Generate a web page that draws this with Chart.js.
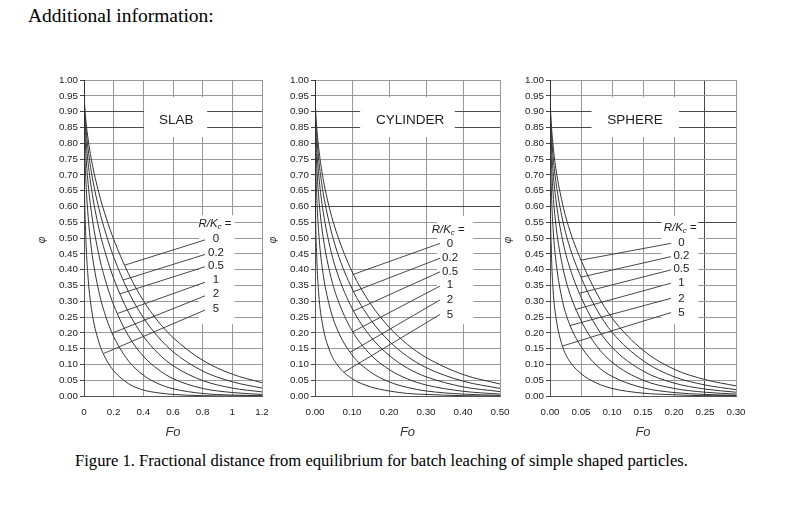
<!DOCTYPE html>
<html><head><meta charset="utf-8">
<script src="https://cdn.jsdelivr.net/npm/chart.js@4.4.1/dist/chart.umd.min.js"></script>
<style>
html,body{margin:0;padding:0;background:#fff;}
body{width:807px;height:509px;overflow:hidden;position:relative;font-family:"Liberation Serif","Times New Roman",serif;}
#title{position:absolute;left:28px;top:5px;font-size:19.5px;color:#000;white-space:nowrap;}
#caption{position:absolute;left:75px;top:451px;font-size:16.6px;color:#000;white-space:nowrap;}
canvas{position:absolute;}
</style></head><body>
<div id="title">Additional information:</div>
<div id="caption">Figure 1. Fractional distance from equilibrium for batch leaching of simple shaped particles.</div>
<script>
// ---- tick labels ----
const yTickLabels = ['0.00','0.05','0.10','0.15','0.20','0.25','0.30','0.35','0.40','0.45','0.50','0.55','0.60','0.65','0.70','0.75','0.80','0.85','0.90','0.95','1.00'];
const slabTickLabels = ['0','0.2','0.4','0.6','0.8','1','1.2'];
const cylTickLabels = ['0.00','0.10','0.20','0.30','0.40','0.50'];
const sphTickLabels = ['0.00','0.05','0.10','0.15','0.20','0.25','0.30'];
const ratioLabels = ['0','0.2','0.5','1','2','5'];

// ---- SLAB: Fo and phi for R/Kc = 0, 0.2, 0.5, 1, 2, 5 ----
const slabFo  = [0, 0.002, 0.01, 0.025, 0.05, 0.1, 0.15, 0.2, 0.3, 0.4, 0.5, 0.6, 0.8, 1.0, 1.2];
const slabR0  = [1, 0.950, 0.887, 0.822, 0.748, 0.643, 0.563, 0.496, 0.387, 0.302, 0.236, 0.185, 0.113, 0.069, 0.042];
const slabR02 = [1, 0.940, 0.867, 0.792, 0.708, 0.594, 0.510, 0.440, 0.330, 0.248, 0.187, 0.140, 0.079, 0.045, 0.025];
const slabR05 = [1, 0.926, 0.838, 0.750, 0.657, 0.531, 0.443, 0.372, 0.265, 0.189, 0.135, 0.096, 0.049, 0.025, 0.013];
const slabR1  = [1, 0.903, 0.793, 0.687, 0.581, 0.447, 0.357, 0.288, 0.190, 0.126, 0.084, 0.055, 0.024, 0.011, 0.005];
const slabR2  = [1, 0.860, 0.714, 0.586, 0.466, 0.331, 0.247, 0.188, 0.111, 0.066, 0.039, 0.023, 0.008, 0.003, 0.001];
const slabR5  = [1, 0.749, 0.539, 0.391, 0.277, 0.171, 0.115, 0.080, 0.039, 0.019, 0.010, 0.005, 0.001, 0.000, 0.000];

// ---- CYLINDER ----
const cylFo  = [0, 0.001, 0.004, 0.01, 0.02, 0.04, 0.06, 0.1, 0.15, 0.2, 0.25, 0.3, 0.4, 0.5];
const cylR0  = [1, 0.930, 0.861, 0.785, 0.701, 0.590, 0.511, 0.394, 0.292, 0.218, 0.163, 0.122, 0.068, 0.038];
const cylR02 = [1, 0.916, 0.837, 0.750, 0.658, 0.540, 0.456, 0.340, 0.242, 0.174, 0.125, 0.090, 0.047, 0.024];
const cylR05 = [1, 0.897, 0.801, 0.701, 0.600, 0.474, 0.390, 0.278, 0.188, 0.129, 0.088, 0.061, 0.029, 0.014];
const cylR1  = [1, 0.866, 0.748, 0.630, 0.519, 0.391, 0.310, 0.207, 0.131, 0.084, 0.054, 0.035, 0.015, 0.006];
const cylR2  = [1, 0.809, 0.657, 0.518, 0.402, 0.281, 0.211, 0.130, 0.076, 0.045, 0.027, 0.016, 0.006, 0.002];
const cylR5  = [1, 0.670, 0.470, 0.325, 0.229, 0.142, 0.099, 0.055, 0.029, 0.016, 0.008, 0.005, 0.001, 0.000];

// ---- SPHERE ----
const sphFo  = [0, 0.0005, 0.002, 0.005, 0.01, 0.02, 0.03, 0.05, 0.075, 0.1, 0.15, 0.2, 0.25, 0.3];
const sphR0  = [1, 0.932, 0.866, 0.792, 0.713, 0.610, 0.536, 0.430, 0.326, 0.247, 0.145, 0.085, 0.052, 0.032];
const sphR02 = [1, 0.919, 0.842, 0.758, 0.671, 0.560, 0.483, 0.376, 0.275, 0.202, 0.112, 0.061, 0.035, 0.020];
const sphR05 = [1, 0.900, 0.807, 0.710, 0.614, 0.496, 0.418, 0.313, 0.219, 0.154, 0.079, 0.041, 0.022, 0.012];
const sphR1  = [1, 0.869, 0.755, 0.640, 0.533, 0.413, 0.336, 0.239, 0.159, 0.107, 0.050, 0.024, 0.012, 0.006];
const sphR2  = [1, 0.814, 0.665, 0.529, 0.420, 0.302, 0.235, 0.157, 0.097, 0.062, 0.026, 0.011, 0.005, 0.002];
const sphR5  = [1, 0.676, 0.478, 0.336, 0.244, 0.158, 0.115, 0.071, 0.041, 0.024, 0.009, 0.004, 0.001, 0.001];

// ---- leader lines (label side -> curve), in data units ----
const slabLeadStart = [[0.816,0.494],[0.816,0.448],[0.816,0.409],[0.816,0.360],[0.816,0.317],[0.816,0.272]];
const slabLeadEnd   = [[0.274,0.414],[0.263,0.367],[0.241,0.323],[0.225,0.261],[0.190,0.199],[0.130,0.134]];
const cylLeadStart  = [[0.338,0.483],[0.338,0.436],[0.338,0.393],[0.338,0.348],[0.338,0.304],[0.338,0.258]];
const cylLeadEnd    = [[0.104,0.385],[0.104,0.330],[0.104,0.269],[0.102,0.203],[0.0946,0.138],[0.078,0.075]];
const sphLeadStart  = [[0.195,0.483],[0.195,0.441],[0.195,0.399],[0.195,0.357],[0.195,0.309],[0.195,0.264]];
const sphLeadEnd    = [[0.050,0.430],[0.050,0.376],[0.047,0.325],[0.0415,0.274],[0.0323,0.223],[0.0199,0.158]];

const SANS = "'Liberation Sans', Arial, sans-serif";
const CURVE = '#333333';
const GRID = '#999999';
const GRID_DARK = '#4a4a4a';
const CANVAS_TOP = 70, CANVAS_H = 380;

const panels = [
  {name:'SLAB', left:30, w:242, xmax:1.2, step:0.2, xLabels:slabTickLabels, fo:slabFo,
   curves:[slabR0,slabR02,slabR05,slabR1,slabR2,slabR5], ls:slabLeadStart, le:slabLeadEnd,
   nameAt:[0.622,0.873], nameBox:[0.405,0.83,0.82,0.945], rkAt:[0.883,0.544], rkBox:[0.775,1.015,0.228,0.572],
   labX:0.89, labY:[0.496,0.4535,0.411,0.367,0.323,0.276], darkY:[90,85], darkX:[]},
  {name:'CYLINDER', left:261, w:249, xmax:0.5, step:0.1, xLabels:cylTickLabels, fo:cylFo,
   curves:[cylR0,cylR02,cylR05,cylR1,cylR2,cylR5], ls:cylLeadStart, le:cylLeadEnd,
   nameAt:[0.257,0.873], nameBox:[0.122,0.378,0.82,0.945], rkAt:[0.360,0.527], rkBox:[0.33,0.428,0.228,0.57],
   labX:0.365, labY:[0.483,0.438,0.393,0.351,0.304,0.258], darkY:[90,85,60], darkX:[]},
  {name:'SPHERE', left:496, w:250, xmax:0.3, step:0.05, xLabels:sphTickLabels, fo:sphFo,
   curves:[sphR0,sphR02,sphR05,sphR1,sphR2,sphR5], ls:sphLeadStart, le:sphLeadEnd,
   nameAt:[0.137,0.873], nameBox:[0.067,0.208,0.82,0.945], rkAt:[0.210,0.533], rkBox:[0.18,0.239,0.228,0.57],
   labX:0.212, labY:[0.486,0.444,0.401,0.357,0.309,0.264], darkY:[90,85,55], darkX:[25]}
];

function decoPlugin(p){
  return {
    id:'deco',
    beforeDatasetsDraw(chart){
      const {ctx, scales:{x,y}} = chart;
      ctx.save(); ctx.fillStyle = '#fff';
      [p.nameBox, p.rkBox].forEach(b=>{
        const x0=x.getPixelForValue(b[0]), x1=x.getPixelForValue(b[1]);
        const y0=y.getPixelForValue(b[3]), y1=y.getPixelForValue(b[2]);
        ctx.fillRect(x0, y0, x1-x0, y1-y0);
      });
      ctx.restore();
    },
    afterDraw(chart){
      const {ctx, chartArea, scales:{x,y}} = chart;
      ctx.save();
      ctx.fillStyle = '#222';
      ctx.textBaseline = 'middle';
      ctx.font = '13.5px ' + SANS; ctx.textAlign = 'center';
      ctx.fillText(p.name, x.getPixelForValue(p.nameAt[0]), y.getPixelForValue(p.nameAt[1]));
      const fI = 'italic 11.5px ' + SANS, fS = 'italic 8px ' + SANS, fN = '11.5px ' + SANS;
      ctx.font = fI; const w1 = ctx.measureText('R/K').width;
      ctx.font = fS; const w2 = ctx.measureText('c').width;
      ctx.font = fN; const w3 = ctx.measureText(' =').width;
      let cx = x.getPixelForValue(p.rkAt[0]) - (w1+w2+w3)/2, cy = y.getPixelForValue(p.rkAt[1]);
      ctx.textAlign = 'left';
      ctx.font = fI; ctx.fillText('R/K', cx, cy); cx += w1;
      ctx.font = fS; ctx.fillText('c', cx, cy+3); cx += w2;
      ctx.font = fN; ctx.fillText(' =', cx, cy);
      ctx.textAlign = 'center'; ctx.font = '11.5px ' + SANS;
      ratioLabels.forEach((t,i)=>ctx.fillText(t, x.getPixelForValue(p.labX), y.getPixelForValue(p.labY[i])));
      ctx.font = 'italic 13px ' + SANS; ctx.fillStyle = '#333';
      ctx.fillText('Fo', (chartArea.left+chartArea.right)/2, 362);
      ctx.translate(chartArea.left - 42, (chartArea.top+chartArea.bottom)/2 + 2);
      ctx.rotate(-Math.PI/2);
      ctx.font = 'italic 10px ' + SANS;
      ctx.fillText('\u03C6', 0, 0);
      ctx.restore();
    }
  };
}

function gridColor(dark){
  return (c)=>{ if(!c.tick) return GRID; const v=Math.round(c.tick.value*100); return dark.includes(v)?GRID_DARK:GRID; };
}

panels.forEach(p=>{
  const cv = document.createElement('canvas');
  cv.width = p.w; cv.height = CANVAS_H;
  cv.style.left = p.left+'px'; cv.style.top = CANVAS_TOP+'px';
  cv.style.width = p.w+'px'; cv.style.height = CANVAS_H+'px';
  document.body.appendChild(cv);
  const datasets = p.curves.map(arr=>({
    data: p.fo.map((fx,i)=>({x:fx, y:arr[i]})),
    borderColor: CURVE, borderWidth: 1, pointRadius: 0,
    cubicInterpolationMode: 'monotone', fill: false
  }));
  p.ls.forEach((s,i)=>datasets.push({
    data: [{x:s[0], y:s[1]}, {x:p.le[i][0], y:p.le[i][1]}],
    borderColor: CURVE, borderWidth: 0.9, pointRadius: 0, tension: 0, fill: false
  }));
  new Chart(cv, {
    type: 'line',
    data: {datasets},
    options: {
      responsive: false, animation: false, devicePixelRatio: 1, events: [],
      layout: {padding: {top: 10, right: 10, left: 0, bottom: 0}},
      plugins: {legend: {display: false}, tooltip: {enabled: false}},
      scales: {
        x: {
          type: 'linear', min: 0, max: p.xmax,
          ticks: {stepSize: p.step, autoSkip: false, maxRotation: 0, padding: 0, color: '#222',
                  font: {family: SANS, size: 9.8},
                  callback: (v)=>p.xLabels[Math.round(v/p.step)]},
          grid: {color: gridColor(p.darkX), drawTicks: true, tickLength: 10, tickColor: 'rgba(0,0,0,0)', lineWidth: 1},
          border: {color: '#555', width: 1},
          afterFit: (s)=>{ s.height = 54; }
        },
        y: {
          min: 0, max: 1,
          ticks: {stepSize: 0.05, autoSkip: false, padding: 2, color: '#222',
                  font: {family: SANS, size: 9.8},
                  callback: (v)=>yTickLabels[Math.round(v*20)]},
          grid: {color: gridColor(p.darkY), tickLength: 4, tickColor: '#444', lineWidth: 1},
          border: {color: '#555', width: 1},
          afterFit: (s)=>{ s.width = 54; }
        }
      }
    },
    plugins: [decoPlugin(p)]
  });
});
</script>
</body></html>
